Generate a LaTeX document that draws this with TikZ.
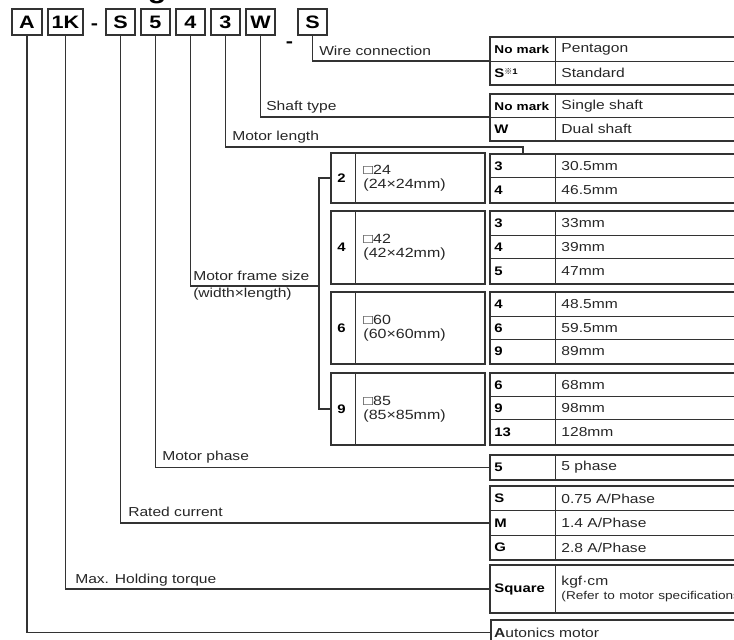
\documentclass[tikz,border=0pt]{standalone}
\usepackage{fontspec}
\setmainfont{Liberation Sans}[FakeStretch=1.2]
\newfontfamily\cjk{Noto Sans CJK JP}
\usetikzlibrary{calc}
\definecolor{lc}{HTML}{333333}
\tikzset{
  conn/.style={draw=lc, line width=0.9pt},
  codebox/.style={draw=lc, line width=1.1pt, minimum width=#1*0.75pt, minimum height=19.5pt, inner sep=0pt,
     font=\bfseries\fontsize{13.5}{14}\selectfont, text=black},
  lbl/.style={anchor=base west, inner sep=0pt, font=\fontsize{9.75}{11}\selectfont, text=black!85},
  kcell/.style={draw=lc, line width=0.7pt, anchor=north west, minimum height=#1*0.75pt, inner ysep=0pt,
     inner xsep=3pt, text width=42.75pt, align=left, font=\bfseries\fontsize{9.3}{11}\selectfont},
  vcell/.style={draw=lc, line width=0.7pt, anchor=north west, minimum height=#1*0.75pt, inner ysep=0pt,
     inner xsep=4.5pt, text width=174.75pt, align=left, font=\fontsize{9.75}{11}\selectfont, text=black!85},
  fkcell/.style={draw=lc, line width=0.7pt, anchor=north west, minimum height=#1*0.75pt, inner ysep=0pt,
     inner xsep=4.5pt, text width=9pt, align=left, font=\bfseries\fontsize{9.3}{11}\selectfont},
  fvcell/.style={draw=lc, line width=0.7pt, anchor=north west, minimum height=#1*0.75pt, inner ysep=0pt,
     inner xsep=6pt, text width=84.75pt, align=left, font=\fontsize{10}{10.5}\selectfont, text=black!85},
  outer/.style={draw=lc, line width=1.3pt},
}
\newcommand\trow[5]{%
  \node[kcell=#3] (#1k) at (490,#2) {#4};
  \node[vcell=#3] (#1v) at (555,#2) {#5};}
\newcommand\frow[4]{%
  \node[fkcell=#3] (#1k) at (331,#2) {#4};}
\begin{document}
\begin{tikzpicture}[x=0.75pt,y=-0.75pt]
\useasboundingbox (0,0) rectangle (734,639);
\clip (0,0) rectangle (734,639);
% title (cut off at top)
\node (title) [anchor=base west, inner sep=0pt, font=\bfseries\fontsize{19}{19}\selectfont] at (11,-1.5) {\textcolor{gray}{■} Ordering Information};
% code boxes
\node[codebox=30] (cA) at (27,22) {A};
\node[codebox=35] (c1K) at (65.5,22) {1K};
\node (d1) [inner sep=0pt, anchor=base, font=\bfseries\fontsize{13.5}{14}\selectfont] at (94.5,29) {-};
\node[codebox=29] (cS) at (120.5,22) {S};
\node[codebox=29] (c5) at (155.5,22) {5};
\node[codebox=29] (c4) at (190.5,22) {4};
\node[codebox=29] (c3) at (225.5,22) {3};
\node[codebox=29] (cW) at (260.5,22) {W};
\node (d2) [inner sep=0pt, anchor=base, font=\bfseries\fontsize{13.5}{14}\selectfont] at (289.5,47) {-};
\node[codebox=29] (cS2) at (312.5,22) {S};
% tables
\trow{t1a}{37}{24}{\fontsize{8.5}{10}\selectfont No mark}{Pentagon}
\trow{t1b}{61}{23}{S\raisebox{0.5ex}{\fontsize{6}{6}\selectfont{\cjk\mdseries ※}1}}{Standard}
\draw[outer] (t1ak.north west) rectangle (t1bv.south east);
\trow{t2a}{94}{23}{\fontsize{8.5}{10}\selectfont No mark}{Single shaft}
\trow{t2b}{117}{23}{W}{Dual shaft}
\draw[outer] (t2ak.north west) rectangle (t2bv.south east);
\trow{t3a}{154}{23}{3}{30.5mm}
\trow{t3b}{177}{25}{4}{46.5mm}
\draw[outer] (t3ak.north west) rectangle (t3bv.south east);
\trow{t4a}{211}{24}{3}{33mm}
\trow{t4b}{235}{23}{4}{39mm}
\trow{t4c}{258}{25}{5}{47mm}
\draw[outer] (t4ak.north west) rectangle (t4cv.south east);
\trow{t5a}{292}{24}{4}{48.5mm}
\trow{t5b}{316}{23}{6}{59.5mm}
\trow{t5c}{339}{24}{9}{89mm}
\draw[outer] (t5ak.north west) rectangle (t5cv.south east);
\trow{t6a}{373}{23}{6}{68mm}
\trow{t6b}{396}{23}{9}{98mm}
\trow{t6c}{419}{25}{13}{128mm}
\draw[outer] (t6ak.north west) rectangle (t6cv.south east);
\trow{t7a}{455}{24}{5}{5 phase}
\draw[outer] (t7ak.north west) rectangle (t7av.south east);
\trow{t8a}{486}{24}{S}{0.75 A/Phase}
\trow{t8b}{510}{25}{M}{1.4 A/Phase}
\trow{t8c}{535}{24}{G}{2.8 A/Phase}
\draw[outer] (t8ak.north west) rectangle (t8cv.south east);
\trow{t9a}{565}{47}{Square}{kgf·cm\\[-1pt]{\fontsize{8.5}{10}\selectfont (Refer to motor specifications)}}
\draw[outer] (t9ak.north west) rectangle (t9av.south east);
\node[draw=lc, line width=1.3pt, anchor=north west, minimum height=19.5pt, inner ysep=0pt, inner xsep=2.5pt,
  text width=230pt, align=left, font=\fontsize{9.75}{11}\selectfont, text=black!85] (t10) at (490,619) {\textbf{A}utonics motor};
% frame size boxes
\frow{f2}{153}{49}{2}
\node[fvcell=49] (f2v) at (355,153) {□24\\(24×24mm)};
\draw[outer] (f2k.north west) rectangle (f2v.south east);
\frow{f4}{211}{72}{4}
\node[fvcell=72] (f4v) at (355,211) {□42\\(42×42mm)};
\draw[outer] (f4k.north west) rectangle (f4v.south east);
\frow{f6}{292}{71}{6}
\node[fvcell=71] (f6v) at (355,292) {□60\\(60×60mm)};
\draw[outer] (f6k.north west) rectangle (f6v.south east);
\frow{f9}{373}{71}{9}
\node[fvcell=71] (f9v) at (355,373) {□85\\(85×85mm)};
\draw[outer] (f9k.north west) rectangle (f9v.south east);
% connectors
\coordinate (mlen) at (523,147);
\coordinate (fs) at (319,286);
\draw[conn] (cS2.south) |- (t1bk.north west);
\draw[conn] (cW.south) |- (t2bk.north west);
\draw[conn] (c3.south) |- (mlen) -- (mlen |- t3ak.north);
\draw[conn] (c4.south) |- (fs);
\draw[conn] (f2k.west) -| (fs);
\draw[conn] (f9k.west) -| (fs);
\draw[conn] (c5.south) |- (t7ak.west);
\draw[conn] (cS.south) |- (t8bk.west);
\draw[conn] (c1K.south) |- (t9ak.west);
\draw[conn] (cA.south) |- (t10.west);
% labels
\node[lbl] (lW) at (319,55) {Wire connection};
\node[lbl] (lSh) at (266,110) {Shaft type};
\node[lbl] (lML) at (232,140) {Motor length};
\node[lbl] (lFS) at (193,280) {Motor frame size};
\node[lbl] (lFS2) at (193,297) {(width×length)};
\node[lbl] (lMP) at (162,460) {Motor phase};
\node[lbl] (lRC) at (128,516) {Rated current};
\node[lbl] (lMH) at (75,583) {Max. Holding torque};
\end{tikzpicture}
\end{document}
